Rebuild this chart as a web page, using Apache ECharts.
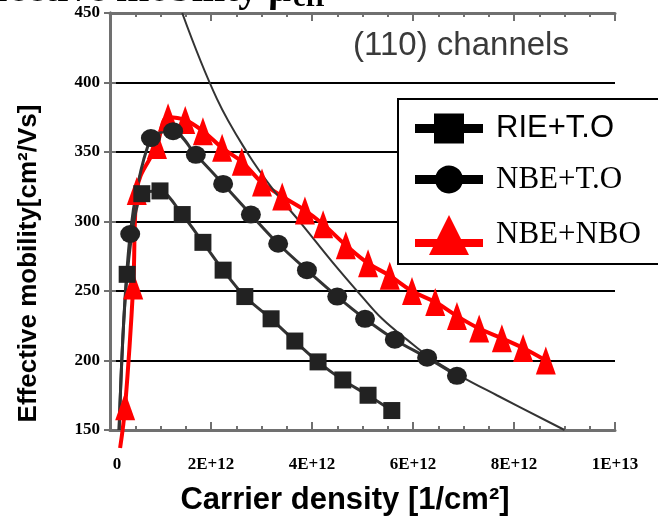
<!DOCTYPE html>
<html>
<head>
    <meta charset="utf-8">
    <title>Effective mobility</title>
    <script src="https://cdn.jsdelivr.net/npm/echarts@6/dist/echarts.min.js"></script>
    <style>
        html, body { margin: 0; padding: 0; background: #fff; }
    </style>
</head>
<body>
<div id="main" style="width: 658px;height:521px;"></div>

<script type="text/javascript">
    // carrier density in units of 1E+12 /cm2, mobility in cm2/Vs
    var xTickLabels = ['0', '2E+12', '4E+12', '6E+12', '8E+12', '1E+13'];

    var rieDensity  = [0.18, 0.34, 0.63, 0.99, 1.43, 1.84, 2.24, 2.67, 3.19, 3.66, 4.12, 4.61, 5.11, 5.58];
    var rieMobility = [150, 262, 320, 322, 305, 285, 265, 246, 230, 214, 199, 186, 175, 164];

    var nbeDensity  = [0.18, 0.40, 0.81, 1.25, 1.70, 2.24, 2.79, 3.33, 3.90, 4.50, 5.05, 5.64, 6.28, 6.87];
    var nbeMobility = [150, 291, 360, 365, 348, 327, 305, 284, 265, 246, 230, 215, 202, 189];

    var nboDensity  = [0.20, 0.30, 0.46, 0.53, 0.93, 1.15, 1.49, 1.84, 2.22, 2.61, 3.01, 3.41, 3.86, 4.22,
                       4.67, 5.11, 5.54, 5.98, 6.44, 6.87, 7.31, 7.76, 8.18, 8.63];
    var nboMobility = [137, 167, 254, 322, 355, 375, 373, 365, 353, 343, 328, 318, 308, 298,
                       283, 270, 261, 250, 242, 232, 223, 216, 209, 200];

    // universal mobility curve (no markers)
    var univDensity  = [1.43, 2.12, 2.71, 3.25, 3.80, 4.40, 4.99, 5.39, 5.88, 6.34, 6.93, 7.66, 9.00];
    var univMobility = [450, 388, 350, 322, 298, 271, 246, 230, 215, 202, 189, 175, 150];

    // first point of each measured series is only the start of the fitted line
    function pairs(xs, ys, lineStart) {
        return xs.map(function (x, i) {
            if (lineStart && i === 0) {
                return {value: [x, ys[i]], symbol: 'none'};
            }
            return [x, ys[i]];
        });
    }

    var SERIF = '"Liberation Serif", "Times New Roman", serif';
    var SANS = '"Liberation Sans", Arial, sans-serif';
    var FRAME = '#707070';

    // legend icons: line + marker, 68 px wide
    var iconSquare = 'path://M0,10.5H19V0H49V10.5H68V19.5H49V30H19V19.5H0Z';
    var iconCircle = 'path://M0,9.5H20.74A14,14 0 0 1 47.26,9.5H68V18.5H47.26A14,14 0 0 1 20.74,18.5H0Z';
    var iconTriangle = 'path://M0,24H22L34,0L46,24H68V32H50L54,40H14L18,32H0Z';

    var myChart = echarts.init(document.getElementById('main'));

    var axisX = {
        type: 'value',
        min: 0,
        max: 10,
        interval: 2,
        axisLine: {show: true, onZero: false, lineStyle: {color: FRAME, width: 3}},
        axisTick: {show: true, inside: true, length: 8, lineStyle: {color: FRAME, width: 2}},
        minorTick: {show: true, splitNumber: 4, length: 4, lineStyle: {color: FRAME, width: 2}},
        splitLine: {show: false},
        z: 1
    };

    var option = {
        animation: false,
        backgroundColor: '#fff',
        grid: {left: 110, right: 43, top: 13, bottom: 89},
        graphic: [
            {
                type: 'text', x: 291, y: -9, z: 10,
                style: {text: 'Effective mobility \u03bc', fill: '#000', align: 'right', verticalAlign: 'middle',
                    font: 'bold 40px ' + SERIF}
            },
            {
                type: 'text', x: 293, y: -1, z: 10,
                style: {text: 'eff', fill: '#000', align: 'left', verticalAlign: 'middle',
                    font: 'bold 29px ' + SERIF}
            },
            {
                type: 'text', x: 461, y: 46, z: 10,
                style: {text: '(110) channels', fill: '#3a3a3a', align: 'center', verticalAlign: 'middle',
                    font: '33px ' + SANS}
            }
        ],
        legend: {
            orient: 'vertical',
            left: 398,
            top: 99,
            itemWidth: 68,
            itemHeight: 40,
            itemGap: 20,
            padding: [14, 40, 9, 17],
            backgroundColor: '#fff',
            borderColor: '#000',
            borderWidth: 2,
            selectedMode: false,
            textStyle: {fontSize: 31, color: '#000', padding: [0, 0, 0, 8]},
            data: [
                {name: 'RIE+T.O', icon: iconSquare, itemStyle: {color: '#000'},
                    textStyle: {fontFamily: SANS}},
                {name: 'NBE+T.O', icon: iconCircle, itemStyle: {color: '#000'},
                    textStyle: {fontFamily: SERIF}},
                {name: 'NBE+NBO', icon: iconTriangle, itemStyle: {color: '#ff0000'},
                    textStyle: {fontFamily: SERIF}}
            ]
        },
        xAxis: [
            Object.assign({}, axisX, {
                position: 'bottom',
                name: 'Carrier density [1/cm\u00b2]',
                nameLocation: 'middle',
                nameGap: 55,
                nameTextStyle: {fontFamily: SANS, fontWeight: 'bold', fontSize: 31, color: '#000',
                    padding: [0, 35, 0, 0]},
                axisLabel: {
                    show: true, margin: 26, color: '#000', fontFamily: SERIF, fontWeight: 'bold', fontSize: 17,
                    formatter: function (v) {
                        var i = Math.round(v / 2);
                        return i === 0 ? '{first|' + xTickLabels[0] + '}' : xTickLabels[i];
                    },
                    rich: {
                        first: {fontFamily: SERIF, fontWeight: 'bold', fontSize: 17, color: '#000',
                            padding: [0, 0, 0, 14]}
                    }
                }
            }),
            Object.assign({}, axisX, {
                position: 'top',
                axisLabel: {show: false}
            })
        ],
        yAxis: [
            {
                type: 'value',
                position: 'left',
                min: 150,
                max: 450,
                interval: 50,
                name: 'Effective mobility[cm\u00b2/Vs]',
                nameLocation: 'middle',
                nameGap: 68,
                nameTextStyle: {fontFamily: SANS, fontWeight: 'bold', fontSize: 26, color: '#000',
                    padding: [0, 84, 0, 0]},
                axisLine: {show: true, lineStyle: {color: FRAME, width: 3}},
                axisTick: {show: true, inside: true, length: 6, lineStyle: {color: FRAME, width: 2}},
                axisLabel: {margin: 10, color: '#000', fontFamily: SERIF, fontWeight: 'bold', fontSize: 17},
                splitLine: {show: true, lineStyle: {color: '#000', width: 2}},
                z: 0
            },
            {
                type: 'value',
                position: 'right',
                min: 150,
                max: 450,
                interval: 50,
                axisLine: {show: true, lineStyle: {color: FRAME, width: 3}},
                axisTick: {show: true, inside: true, length: 6, lineStyle: {color: FRAME, width: 2}},
                axisLabel: {show: false},
                splitLine: {show: false},
                z: 0
            }
        ],
        series: [
            {
                name: 'NBE+NBO',
                type: 'line',
                smooth: 0.4,
                clip: false,
                symbol: 'triangle',
                symbolSize: [20, 28],
                itemStyle: {color: '#ff0000'},
                lineStyle: {color: '#ff0000', width: 4},
                data: pairs(nboDensity, nboMobility, true)
            },
            {
                name: 'Universal',
                type: 'line',
                smooth: 0.4,
                symbol: 'none',
                lineStyle: {color: '#333', width: 2},
                data: pairs(univDensity, univMobility, false)
            },
            {
                name: 'RIE+T.O',
                type: 'line',
                smooth: 0.3,
                symbol: 'rect',
                symbolSize: 17,
                itemStyle: {color: '#222'},
                lineStyle: {color: '#333', width: 3},
                data: pairs(rieDensity, rieMobility, true)
            },
            {
                name: 'NBE+T.O',
                type: 'line',
                smooth: 0.3,
                symbol: 'circle',
                symbolSize: [20, 18],
                itemStyle: {color: '#222'},
                lineStyle: {color: '#333', width: 3},
                data: pairs(nbeDensity, nbeMobility, true)
            }
        ]
    };

    myChart.setOption(option);
</script>
</body>
</html>
